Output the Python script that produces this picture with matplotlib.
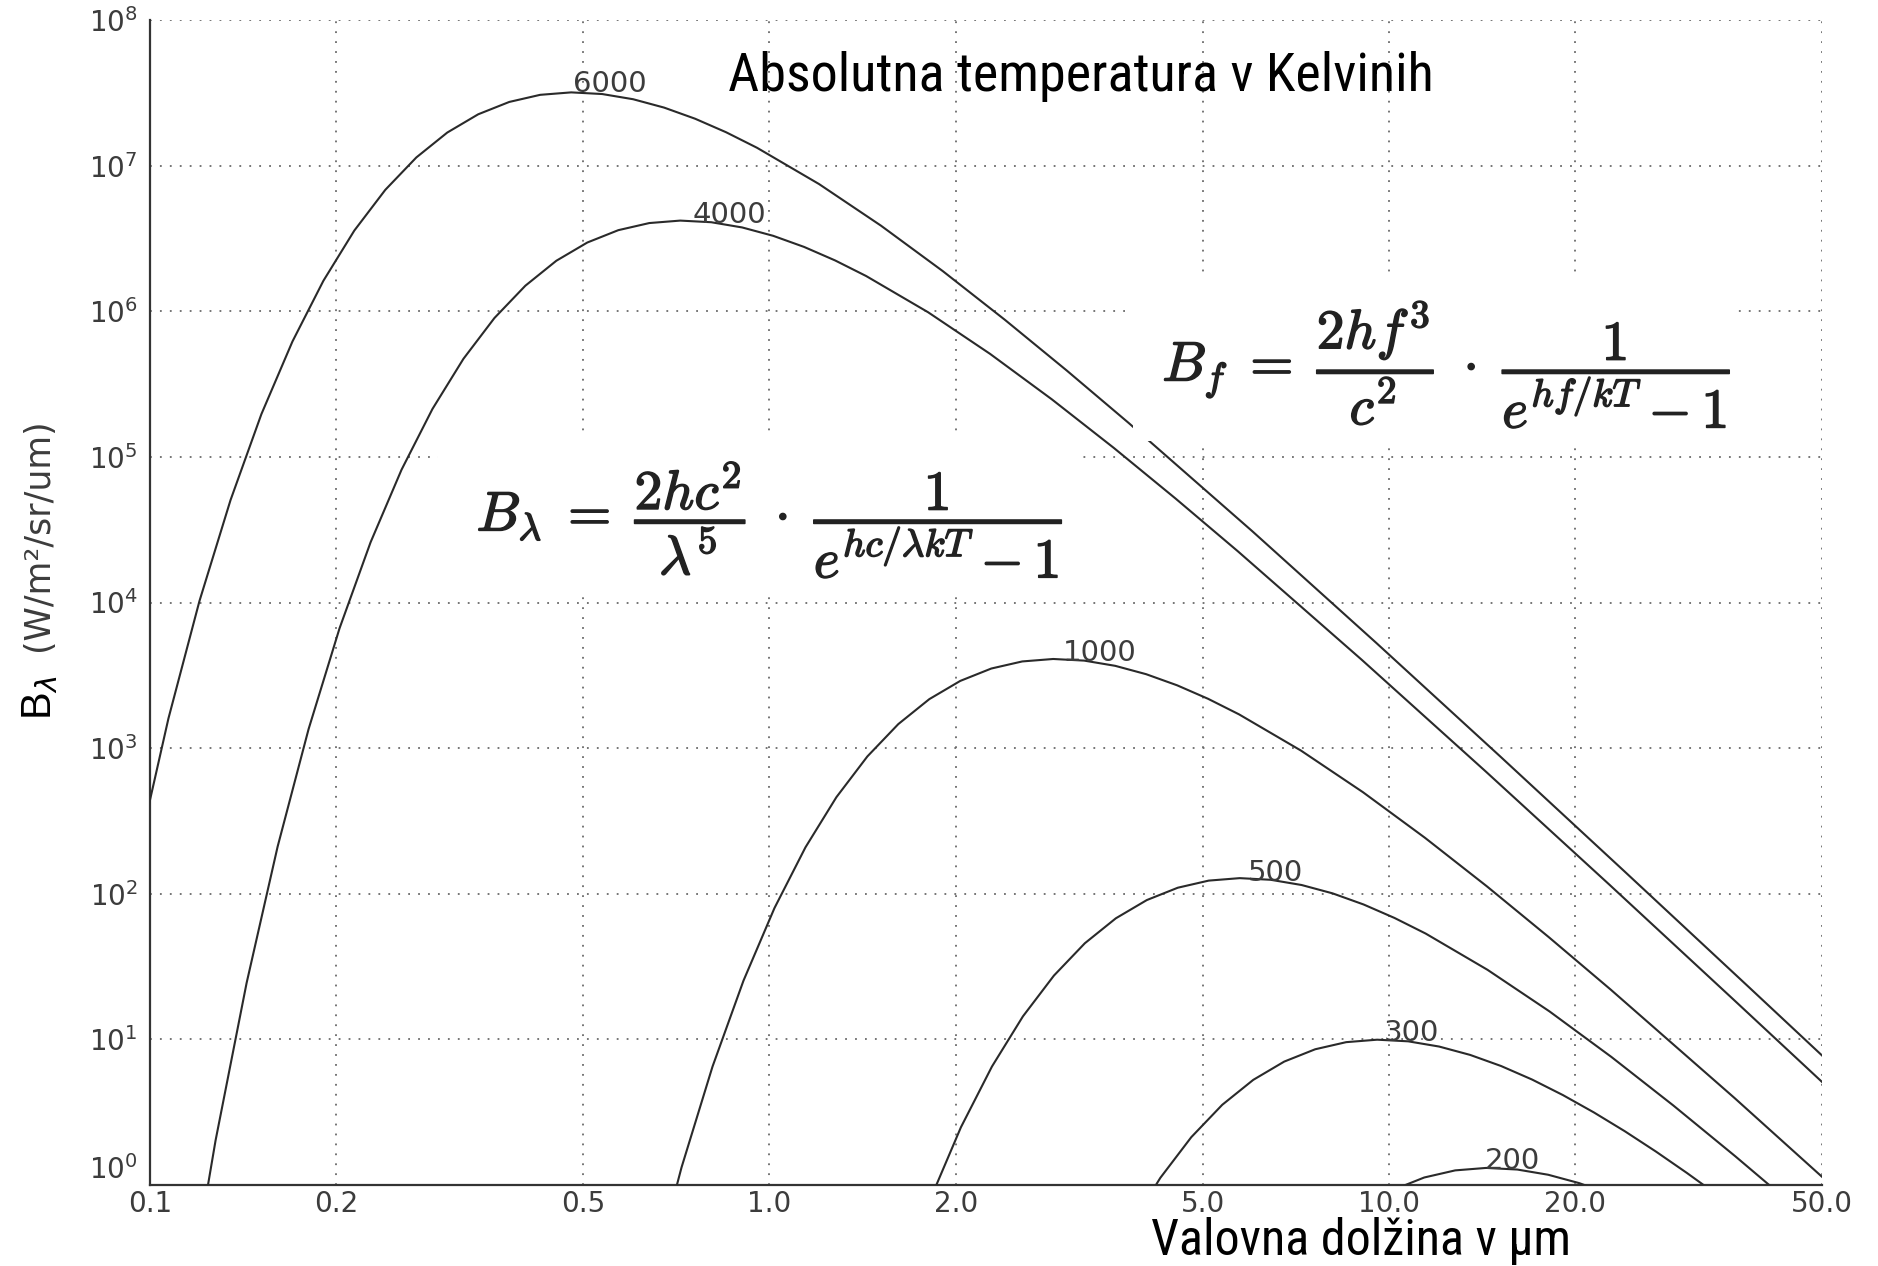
import matplotlib
matplotlib.use("Agg")
import matplotlib.pyplot as plt
from matplotlib import font_manager
from matplotlib import patheffects
from matplotlib.patches import Rectangle
from matplotlib.ticker import NullLocator

# ---------------- data ----------------
temperatures = ["6000", "4000", "1000", "500", "300", "200"]

wl_6000 = [0.0955, 0.1071, 0.1202, 0.1349, 0.1513, 0.1698, 0.1905, 0.2137, 0.2398, 0.2691,
           0.3019, 0.3387, 0.3801, 0.4264, 0.4785, 0.5368, 0.6024, 0.6759, 0.7583, 0.8508,
           0.9547, 1.202, 1.513, 1.905, 2.398, 3.019, 3.801, 6.024, 9.547, 15.13,
           23.98, 38.01, 60.24]
b_6000 = [185.2, 1600, 1.026e4, 5.053e4, 1.967e5, 6.199e5, 1.619e6, 3.581e6, 6.821e6, 1.138e7,
          1.687e7, 2.252e7, 2.737e7, 3.063e7, 3.184e7, 3.102e7, 2.857e7, 2.503e7, 2.100e7, 1.696e7,
          1.326e7, 7.476e6, 3.873e6, 1.884e6, 8.742e5, 3.916e5, 1.708e5, 3.072e4, 5260, 874.6,
          142.8, 23.06, 3.698]

wl_4000 = [0.1138, 0.1276, 0.1432, 0.1607, 0.1803, 0.2023, 0.2270, 0.2547, 0.2857, 0.3206,
           0.3597, 0.4036, 0.4528, 0.5081, 0.5701, 0.6397, 0.7177, 0.8053, 0.9035, 1.0138,
           1.1375, 1.2763, 1.432, 1.803, 2.270, 2.857, 3.597, 4.528, 5.701, 9.035,
           14.32, 22.70, 35.97, 57.01]
b_4000 = [0.1154, 2.024, 24.39, 210.7, 1351, 6656, 2.589e4, 8.161e4, 2.132e5, 4.715e5,
          8.981e5, 1.498e6, 2.222e6, 2.965e6, 3.604e6, 4.033e6, 4.193e6, 4.086e6, 3.762e6, 3.296e6,
          2.764e6, 2.233e6, 1.746e6, 9.845e5, 5.098e5, 2.481e5, 1.151e5, 5.156e4, 2.249e4, 4045,
          692.6, 115.2, 18.80, 3.036]

wl_1000 = [0.6427, 0.7211, 0.8091, 0.9078, 1.0186, 1.1429, 1.2823, 1.4388, 1.6143, 1.8113,
           2.0323, 2.2804, 2.5586, 2.8708, 3.221, 3.6141, 4.0551, 4.5499, 5.105, 5.728,
           7.211, 9.078, 11.43, 14.39, 18.11, 22.80, 36.14, 57.28]
b_1000 = [0.2057, 1.320, 6.501, 25.29, 79.72, 208.2, 460.4, 877.0, 1463, 2170,
          2895, 3520, 3938, 4094, 3990, 3674, 3219, 2700, 2181, 1705,
          961.4, 498.1, 242.3, 112.4, 50.36, 21.96, 3.950, 0.6763]

wl_500 = [1.816, 2.037, 2.286, 2.565, 2.878, 3.229, 3.623, 4.065, 4.561, 5.117,
          5.742, 6.442, 7.228, 8.110, 9.100, 10.21, 11.46, 14.42, 18.16, 22.86,
          28.78, 36.23, 45.61]
b_500 = [0.7902, 2.491, 6.508, 14.39, 27.41, 45.73, 67.82, 90.49, 110.0, 123.1,
         128.0, 124.7, 114.8, 100.6, 84.38, 68.16, 53.29, 30.05, 15.56, 7.571,
         3.513, 1.574, 0.6865]

wl_300 = [3.810, 4.274, 4.796, 5.381, 6.038, 6.774, 7.601, 8.529, 9.570, 10.74,
          12.05, 13.52, 15.17, 17.02, 19.09, 21.42, 24.04, 26.97, 30.26, 33.95]
b_300 = [0.5060, 1.119, 2.131, 3.555, 5.272, 7.037, 8.552, 9.570, 9.950, 9.696,
         8.927, 7.822, 6.561, 5.299, 4.143, 3.149, 2.336, 1.697, 1.210, 0.8498]

wl_200 = [10.16, 11.40, 12.79, 14.35, 16.11, 18.07, 20.28, 22.75]
b_200 = [0.9266, 1.126, 1.260, 1.310, 1.277, 1.176, 1.030, 0.8640]

# curve label anchor points (near each peak)
label_wl = [0.482, 0.750, 2.98, 5.92, 9.79, 14.3]
label_b = [3.2e7, 4.06e6, 3.98e3, 122.0, 9.67, 1.28]

x_ticks = [0.1, 0.2, 0.5, 1.0, 2.0, 5.0, 10.0, 20.0, 50.0]
x_tick_labels = ["0.1", "0.2", "0.5", "1.0", "2.0", "5.0", "10.0", "20.0", "50.0"]
y_ticks = [1e0, 1e1, 1e2, 1e3, 1e4, 1e5, 1e6, 1e7, 1e8]

title_text = "Absolutna temperatura v Kelvinih"
xlabel_text = "Valovna dolžina v µm"
ylabel_symbol = r"B$_{\lambda}$"
ylabel_units = "(W/m²/sr/um)"
formula_lambda = (r"$B_\lambda \;=\; \dfrac{2hc^2}{\lambda^5}\;\cdot\;"
                  r"\dfrac{1}{e^{hc/\lambda kT}-1}$")
formula_f = r"$B_f \;=\; \dfrac{2hf^3}{c^2}\;\cdot\;\dfrac{1}{e^{hf/kT}-1}$"

# ---------------- fonts ----------------
available = {f.name for f in font_manager.fontManager.ttflist}
narrow_family = None
for cand in ["Liberation Sans Narrow", "Arial Narrow", "Roboto Condensed", "Open Sans Condensed"]:
    if cand in available:
        narrow_family = cand
        break
if narrow_family is None:
    narrow_family = "Liberation Sans"
    title_size, xlabel_size = 33, 31
else:
    title_size, xlabel_size = 39, 36

plt.rcParams["font.family"] = ["DejaVu Sans"]

W, H = 1878, 1266
fig = plt.figure(figsize=(W / 100, H / 100), dpi=100)
ax = fig.add_axes([150 / W, 1 - 1185 / H, (1822 - 150) / W, (1185 - 20) / H])

ax.set_xscale("log")
ax.set_yscale("log")

line_color = "#2a2a2a"
series = [(wl_6000, b_6000), (wl_4000, b_4000), (wl_1000, b_1000),
          (wl_500, b_500), (wl_300, b_300), (wl_200, b_200)]
for wl, bv in series:
    ax.plot(wl, bv, color=line_color, lw=1.5, zorder=3, solid_joinstyle="round")

ax.set_xlim(0.1, 50)
ax.set_ylim(1, 1e8)
ax.set_xticks(x_ticks)
ax.set_xticklabels(x_tick_labels)
ax.set_yticks(y_ticks)
ax.xaxis.set_minor_locator(NullLocator())
ax.yaxis.set_minor_locator(NullLocator())

tick_color = "#3c3c3c"
ax.tick_params(axis="both", length=0, labelsize=20, labelcolor=tick_color)
ax.tick_params(axis="x", pad=3.6)
ax.tick_params(axis="y", pad=9)

# the lowest y label sits just above the axis line (as in the reference)
ax.yaxis.get_major_ticks()[0].label1.set_verticalalignment("bottom")

ax.grid(True, which="major", linestyle=(0, (1, 4.5)), color="#6a6a6a", linewidth=1.3)
ax.set_axisbelow(True)

for side in ["top", "right"]:
    ax.spines[side].set_visible(False)
for side in ["left", "bottom"]:
    ax.spines[side].set_color("#333333")
    ax.spines[side].set_linewidth(1.6)

for name, lx, ly in zip(temperatures, label_wl, label_b):
    ax.text(lx, ly, name, ha="left", va="baseline", fontsize=21, color=tick_color, zorder=4)

# formula boxes (white, covering grid and curves)
box1 = Rectangle((438 / W, 1 - 597 / H), (1076 - 438) / W, (597 - 438) / H,
                 transform=fig.transFigure, facecolor="white", edgecolor="none", zorder=5)
box2 = Rectangle((1133 / W, 1 - 441 / H), (1737 - 1133) / W, (441 - 273) / H,
                 transform=fig.transFigure, facecolor="white", edgecolor="none", zorder=5)
fig.add_artist(box1)
fig.add_artist(box2)

bold_fx = [patheffects.withStroke(linewidth=1.1, foreground="#222222")]
fig.text(770 / W, 1 - 521 / H, formula_lambda, ha="center", va="center", fontsize=40,
         color="#222222", math_fontfamily="cm", zorder=6, path_effects=bold_fx)
fig.text(1447 / W, 1 - 365 / H, formula_f, ha="center", va="center", fontsize=40,
         color="#222222", math_fontfamily="cm", zorder=6, path_effects=bold_fx)

# title and axis labels
fig.text(1081 / W, 1 - 91 / H, title_text, ha="center", va="baseline",
         fontsize=title_size, family=narrow_family, color="black", zorder=6)
fig.text(1361 / W, 1 - 1255 / H, xlabel_text, ha="center", va="baseline",
         fontsize=xlabel_size, family=narrow_family, color="black", zorder=6)
fig.text(40 / W, 1 - 698 / H, ylabel_symbol, ha="center", va="center", rotation=90,
         fontsize=30, family="Liberation Sans", color="black", zorder=6)
fig.text(38 / W, 1 - 535 / H, ylabel_units, ha="center", va="center", rotation=90,
         fontsize=25, color=tick_color, zorder=6)

fig.savefig("out.png", dpi=100, facecolor="white")
